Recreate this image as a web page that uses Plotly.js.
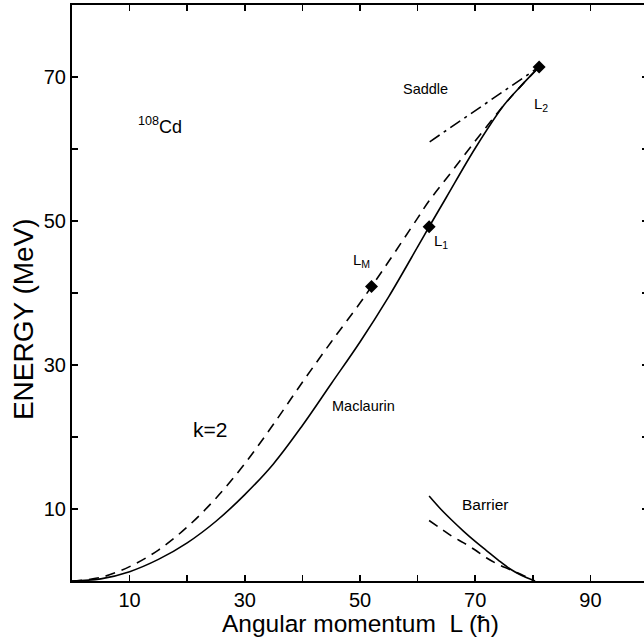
<!DOCTYPE html>
<html><head><meta charset="utf-8">
<script src="https://cdn.plot.ly/plotly-3.0.1.min.js"></script>
<style>html,body{margin:0;padding:0;overflow:hidden;background:#fff}</style>
</head><body><div id="chart"></div>
<script>
// Maclaurin (solid)
const macL = [0, 5, 10, 15, 20, 25, 30, 35, 40, 45, 50, 55, 60, 62, 65, 70, 75, 78, 81.1];
const macE = [0, 0.3, 1.3, 3.0, 5.3, 8.3, 12.0, 16.3, 21.6, 27.4, 33.2, 39.5, 46.4, 49.2, 53.3, 60.1, 66.1, 68.8, 71.4];
// k=2 (dashed)
const k2L = [0, 5, 10, 15, 20, 25, 30, 35, 40, 45, 50, 52, 55, 60, 62, 65, 70, 75, 78, 81.1];
const k2E = [0, 0.5, 2.0, 4.3, 7.5, 11.5, 16.3, 21.8, 27.6, 33.2, 38.6, 40.9, 44.4, 50.4, 52.8, 55.9, 61.1, 66.1, 68.8, 71.4];
// Barrier (solid) and barrier for k=2 (dashed)
const barL = [62, 64, 66, 68, 70, 72, 74, 76, 78, 80.4];
const barE = [11.8, 10.0, 8.4, 6.9, 5.5, 4.2, 2.9, 1.7, 0.8, 0];
const barkL = [62, 64, 66, 68, 70, 72, 74, 76, 78, 80.3];
const barkE = [8.4, 7.3, 6.2, 5.3, 4.3, 3.2, 2.3, 1.6, 0.9, 0];
// Saddle (dash-dot)
const saddleL = [62.1, 81.1];
const saddleE = [61.0, 71.4];
// special points
const pointNames = ['L<sub>M</sub>', 'L<sub>1</sub>', 'L<sub>2</sub>'];
const pointL = [52, 62, 81.1];
const pointE = [40.9, 49.2, 71.4];
// ticks (labelled every 20, tick marks every 10)
const xTickVals = [10, 30, 50, 70, 90];
const yTickVals = [10, 30, 50, 70];
const tickStep = 10;
const xTitle = 'Angular momentum&nbsp;&nbsp;L (ħ)';
const yTitle = 'ENERGY (MeV)';

const FONT = 'Liberation Sans, Arial, sans-serif';
const lw = 1.6;
const traces = [
  {x: macL, y: macE, mode: 'lines', line: {color: '#000', width: lw, shape: 'spline'}},
  {x: k2L, y: k2E, mode: 'lines', line: {color: '#000', width: lw, dash: '10px,7px', shape: 'spline'}},
  {x: barL, y: barE, mode: 'lines', line: {color: '#000', width: lw, shape: 'spline'}},
  {x: barkL, y: barkE, mode: 'lines', line: {color: '#000', width: lw, dash: '10px,7px', shape: 'spline'}},
  {x: saddleL, y: saddleE, mode: 'lines', line: {color: '#000', width: lw, dash: '12px,5px,3px,5px'}},
  {x: pointL, y: pointE, mode: 'markers', marker: {symbol: 'diamond', size: 10, color: '#000'}}
];

const ann = (x, y, text, size) => ({x, y, xref: 'x', yref: 'y', text, showarrow: false,
  font: {family: FONT, size, color: '#000'}});
const annotations = [
  ann(15.2, 63.2, '<sup>108</sup>Cd', 18),
  ann(61.3, 68.3, 'Saddle', 14.5),
  ann(50.6, 24.3, 'Maclaurin', 14.5),
  ann(71.8, 10.6, 'Barrier', 15.5),
  ann(23.9, 21.0, 'k=2', 21),
  ann(50.3, 44.5, pointNames[0], 15),
  ann(64.0, 47.2, pointNames[1], 15),
  ann(81.4, 66.2, pointNames[2], 15),
  {xref: 'paper', yref: 'paper', x: 0.5, y: -0.0745, xanchor: 'center', yanchor: 'middle',
   text: xTitle, showarrow: false, font: {family: FONT, size: 24.5, color: '#000'}},
  {xref: 'paper', yref: 'paper', x: -0.083, y: 0.455, xanchor: 'center', yanchor: 'middle', textangle: -90,
   text: yTitle, showarrow: false, font: {family: FONT, size: 28, color: '#000'}}
];

const axisCommon = {
  tickmode: 'array', ticks: 'inside', ticklen: 6, tickwidth: 1.5, tickcolor: '#000',
  minor: {tickmode: 'linear', tick0: 0, dtick: tickStep, ticks: 'inside', ticklen: 6, tickwidth: 1.5, tickcolor: '#000', showgrid: false},
  showline: true, linecolor: '#000', linewidth: 2, mirror: 'ticks',
  showgrid: false, zeroline: false,
  tickfont: {family: FONT, size: 20, color: '#000'}
};

const layout = {
  width: 650, height: 641,
  margin: {l: 72, r: 2, t: 5, b: 60},
  paper_bgcolor: '#fff', plot_bgcolor: '#fff',
  showlegend: false,
  font: {family: FONT, color: '#000'},
  xaxis: Object.assign({}, axisCommon, {range: [0, 100], tickvals: xTickVals}),
  yaxis: Object.assign({}, axisCommon, {range: [0, 80], tickvals: yTickVals}),
  annotations
};
Plotly.newPlot('chart', traces, layout, {staticPlot: true, displayModeBar: false});
</script></body></html>
